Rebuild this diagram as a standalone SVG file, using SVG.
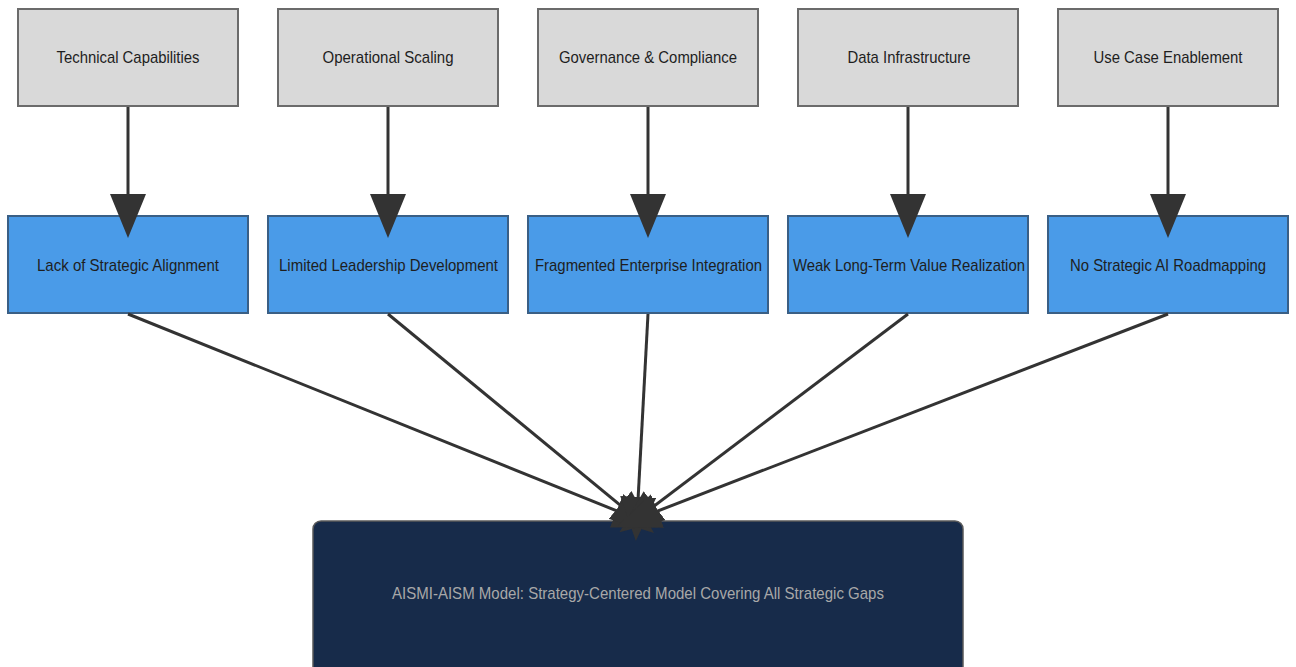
<svg xmlns="http://www.w3.org/2000/svg" width="1296" height="667" viewBox="0 0 1296 667">
<defs>
<style>
.gray rect{fill:#d9d9d9;stroke:#6b6b6b;stroke-width:2}
.blue rect{fill:#4a9be8;stroke:#3a5f85;stroke-width:2}
.main rect{fill:#172b4a;stroke:#5a5a5a;stroke-width:1.5}
text{font-family:"Liberation Sans",Arial,sans-serif;font-size:17px;text-anchor:middle;fill:#1e1e1e}
.main text{fill:#a8a8a8}
.edge{stroke:#333;stroke-width:3;fill:none;marker-end:url(#arr)}
</style>
<marker id="arr" markerUnits="userSpaceOnUse" markerWidth="44" markerHeight="36" viewBox="0 0 44 36" refX="22" refY="18" orient="auto">
<path d="M0,0 L44,18 L0,36 z" fill="#333"/>
</marker>
</defs>
<rect width="1296" height="667" fill="#fff"/>
<g id="gray1" class="gray"><rect x="18" y="9" width="220" height="97"/><text x="128" y="63" textLength="143" lengthAdjust="spacingAndGlyphs">Technical Capabilities</text></g>
<g id="gray2" class="gray"><rect x="278" y="9" width="220" height="97"/><text x="388" y="63" textLength="131" lengthAdjust="spacingAndGlyphs">Operational Scaling</text></g>
<g id="gray3" class="gray"><rect x="538" y="9" width="220" height="97"/><text x="648" y="63" textLength="178" lengthAdjust="spacingAndGlyphs">Governance &amp; Compliance</text></g>
<g id="gray4" class="gray"><rect x="798" y="9" width="220" height="97"/><text x="909" y="63" textLength="123" lengthAdjust="spacingAndGlyphs">Data Infrastructure</text></g>
<g id="gray5" class="gray"><rect x="1058" y="9" width="220" height="97"/><text x="1168" y="63" textLength="149" lengthAdjust="spacingAndGlyphs">Use Case Enablement</text></g>
<g id="blue1" class="blue"><rect x="8" y="216" width="240" height="97"/><text x="128" y="270.5" textLength="182" lengthAdjust="spacingAndGlyphs">Lack of Strategic Alignment</text></g>
<g id="blue2" class="blue"><rect x="268" y="216" width="240" height="97"/><text x="388.5" y="270.5" textLength="219" lengthAdjust="spacingAndGlyphs">Limited Leadership Development</text></g>
<g id="blue3" class="blue"><rect x="528" y="216" width="240" height="97"/><text x="648.5" y="270.5" textLength="227" lengthAdjust="spacingAndGlyphs">Fragmented Enterprise Integration</text></g>
<g id="blue4" class="blue"><rect x="788" y="216" width="240" height="97"/><text x="909" y="270.5" textLength="232" lengthAdjust="spacingAndGlyphs">Weak Long-Term Value Realization</text></g>
<g id="blue5" class="blue"><rect x="1048" y="216" width="240" height="97"/><text x="1168" y="270.5" textLength="196" lengthAdjust="spacingAndGlyphs">No Strategic AI Roadmapping</text></g>
<g id="main" class="main"><rect x="313" y="521" width="650" height="160" rx="8" ry="8"/><text x="638" y="599" textLength="492" lengthAdjust="spacingAndGlyphs">AISMI-AISM Model: Strategy-Centered Model Covering All Strategic Gaps</text></g>
<g id="connectors">
<line class="edge" x1="128" y1="107" x2="128" y2="216"/>
<line class="edge" x1="388" y1="107" x2="388" y2="216"/>
<line class="edge" x1="648" y1="107" x2="648" y2="216"/>
<line class="edge" x1="908" y1="107" x2="908" y2="216"/>
<line class="edge" x1="1168" y1="107" x2="1168" y2="216"/>
<line class="edge" x1="128" y1="314" x2="637" y2="519"/>
<line class="edge" x1="388" y1="314" x2="637" y2="519"/>
<line class="edge" x1="648" y1="314" x2="637" y2="519"/>
<line class="edge" x1="908" y1="314" x2="637" y2="519"/>
<line class="edge" x1="1168" y1="314" x2="637" y2="519"/>
</g>
</svg>
